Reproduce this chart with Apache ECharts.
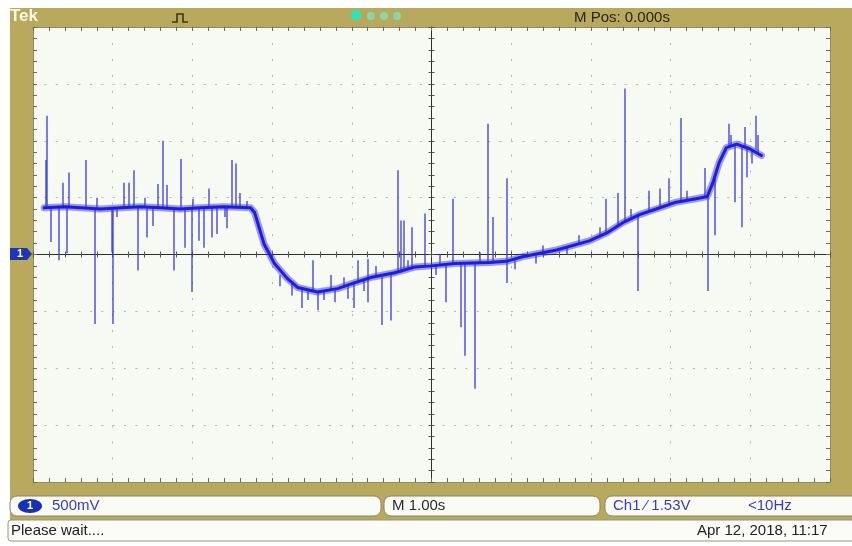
<!DOCTYPE html>
<html>
<head>
<meta charset="utf-8">
<script src="https://cdn.jsdelivr.net/npm/echarts@6/dist/echarts.min.js"></script>
<style>
html,body{margin:0;padding:0;background:#fff;}
#c{width:852px;height:546px;}
</style>
</head>
<body>
<div id="c"></div>
<script>
const traceTime = [-4.86,-4.60,-4.40,-4.15,-3.90,-3.65,-3.40,-3.15,-2.90,-2.60,-2.27,-2.22,-2.16,-2.10,-2.03,-1.97,-1.81,-1.68,-1.43,-1.18,-0.97,-0.75,-0.46,-0.21,0.00,0.29,0.73,0.94,1.14,1.57,1.98,2.20,2.40,2.61,2.82,3.07,3.32,3.46,3.53,3.61,3.70,3.83,3.99,4.14];
const traceVolt = [0.41,0.42,0.41,0.40,0.41,0.42,0.41,0.40,0.41,0.42,0.41,0.37,0.23,0.09,0.00,-0.08,-0.21,-0.29,-0.33,-0.30,-0.25,-0.20,-0.16,-0.11,-0.10,-0.08,-0.07,-0.06,-0.02,0.04,0.12,0.19,0.28,0.35,0.40,0.46,0.49,0.51,0.63,0.81,0.94,0.97,0.93,0.87];

// Glitch spikes: time, level they start from, level they reach
const spikeTime = [-4.83,-4.84,-4.78,-4.68,-4.63,-4.58,-4.55,-4.34,-4.23,-4.00,-4.01,-3.86,-3.80,-3.74,-3.68,-3.57,-3.50,-3.43,-3.37,-3.32,-3.23,-3.15,-3.09,-3.01,-2.92,-2.86,-2.80,-2.76,-2.69,-2.57,-2.51,-2.46,-2.40,-2.32,
  -1.63,-1.49,-1.43,-1.26,-1.22,-1.05,-0.97,-0.92,-0.80,-0.80,-0.63,-0.51,-0.42,-0.39,-0.35,-0.25,-0.09,0.18,0.27,0.37,0.42,0.54,0.71,0.77,
  0.94,0.94,1.31,2.11,2.19,2.34,2.42,2.59,2.73,2.87,2.98,3.13,3.43,3.47,3.55,3.73,3.80,3.89,3.95,3.93,4.07,4.09,
  -1.90,-1.75,-1.55,-1.35,-1.10,-0.85,-0.70,-0.30,0.05,0.10,0.60,1.05,1.40,1.70,1.85,2.50,3.20,3.76,4.02,-4.20,-3.95,-3.60,-3.00,-2.60];
const spikeFrom = [0.41,0.41,0.41,0.41,0.41,0.41,0.41,0.41,0.41,0.41,0.41,0.41,0.41,0.41,0.41,0.41,0.41,0.41,0.41,0.41,0.41,0.41,0.41,0.41,0.41,0.41,0.41,0.41,0.41,0.41,0.41,0.41,0.41,0.41,
  -0.30,-0.32,-0.33,-0.31,-0.31,-0.27,-0.25,-0.25,-0.21,-0.21,-0.19,-0.17,-0.16,-0.16,-0.15,-0.13,-0.10,-0.09,-0.08,-0.08,-0.08,-0.08,-0.07,-0.07,
  -0.06,-0.06,0.00,0.15,0.19,0.25,0.29,0.35,0.38,0.41,0.43,0.46,0.50,0.51,0.68,0.95,0.96,0.96,0.95,0.95,0.92,0.90,
  -0.18,-0.26,-0.31,-0.33,-0.29,-0.22,-0.19,-0.13,-0.10,-0.10,-0.07,-0.05,0.01,0.06,0.09,0.32,0.48,0.96,0.92,0.41,0.41,0.41,0.41,0.41];
const spikeTo = [1.22,0.83,0.11,-0.05,0.63,0.01,0.72,0.83,-0.61,-0.61,0.02,0.63,0.63,0.74,-0.14,0.15,0.25,0.62,1.00,0.61,-0.14,0.84,0.06,-0.33,0.12,0.06,0.58,0.15,0.18,0.23,0.83,0.80,0.54,0.47,
  -0.47,-0.05,-0.49,-0.18,-0.42,-0.39,-0.47,-0.05,-0.04,-0.42,-0.62,-0.58,0.74,0.30,0.30,0.24,0.36,-0.42,0.49,-0.64,-0.89,-1.18,1.15,0.33,
  0.67,-0.25,-0.08,0.24,0.49,0.54,1.46,-0.32,0.56,0.58,0.67,1.20,0.76,-0.32,0.17,1.15,0.46,0.24,0.68,1.12,1.22,1.05,
  -0.28,-0.36,-0.40,-0.40,-0.20,-0.32,-0.10,-0.05,-0.18,0.00,0.02,-0.13,0.08,0.00,0.17,0.40,0.56,1.05,0.80,0.50,0.33,0.50,0.49,0.33];

const tracePts = traceTime.map((t, i) => [t, traceVolt[i]]);
const spikeSegs = spikeTime.map((t, i) => ({coords: [[t, spikeFrom[i]], [t, spikeTo[i]]]}));

const chart = echarts.init(document.getElementById('c'), null, {renderer: 'canvas'});
const FONT = '"Liberation Sans", Arial, sans-serif';

function xAx(extra) {
  return Object.assign({
    type: 'value', min: -5, max: 5, interval: 1,
    axisLabel: {show: false},
    splitLine: {show: false},
    axisLine: {show: false, onZero: false},
    axisTick: {show: true, inside: true, length: 4, lineStyle: {color: '#6a6a60'}},
    minorTick: {show: true, splitNumber: 5, length: 4, lineStyle: {color: '#6a6a60'}}
  }, extra);
}
function yAx(extra) {
  return Object.assign({
    type: 'value', min: -2, max: 2, interval: 0.5,
    axisLabel: {show: false},
    splitLine: {show: false},
    axisLine: {show: false, onZero: false},
    axisTick: {show: true, inside: true, length: 4, lineStyle: {color: '#6a6a60'}},
    minorTick: {show: true, splitNumber: 5, length: 4, lineStyle: {color: '#6a6a60'}}
  }, extra);
}

const option = {
  backgroundColor: '#ffffff',
  animation: false,
  grid: {left: 33, top: 27, width: 797, height: 455, show: true, backgroundColor: '#f7f9f3', borderWidth: 0},
  xAxis: [
    xAx({position: 'bottom', axisLine: {show: true, onZero: false, lineStyle: {color: '#8c8a78'}},
      splitLine: {show: true, lineStyle: {color: '#b4b4ac', width: 1, type: [2, 13.94]}}}),
    xAx({position: 'top', axisLine: {show: true, onZero: false, lineStyle: {color: '#8c8a78'}}}),
    xAx({position: 'bottom', axisLine: {show: true, onZero: true, lineStyle: {color: '#2e2e2e', width: 1}},
      axisTick: {show: true, inside: false, length: 3, lineStyle: {color: '#555'}}, minorTick: {show: true, splitNumber: 5, length: 3, lineStyle: {color: '#555'}}}),
    xAx({position: 'bottom', axisLine: {show: false, onZero: true},
      axisTick: {show: true, inside: true, length: 3, lineStyle: {color: '#555'}}, minorTick: {show: true, splitNumber: 5, length: 3, lineStyle: {color: '#555'}}})
  ],
  yAxis: [
    yAx({position: 'left', axisLine: {show: true, onZero: false, lineStyle: {color: '#8c8a78'}},
      splitLine: {show: true, lineStyle: {color: '#b4b4ac', width: 1, type: [2, 9.38]}}}),
    yAx({position: 'right', axisLine: {show: true, onZero: false, lineStyle: {color: '#8c8a78'}}}),
    yAx({position: 'left', axisLine: {show: true, onZero: true, lineStyle: {color: '#2e2e2e', width: 1}},
      axisTick: {show: true, inside: false, length: 3, lineStyle: {color: '#555'}}, minorTick: {show: true, splitNumber: 5, length: 3, lineStyle: {color: '#555'}}}),
    yAx({position: 'left', axisLine: {show: false, onZero: true},
      axisTick: {show: true, inside: true, length: 3, lineStyle: {color: '#555'}}, minorTick: {show: true, splitNumber: 5, length: 3, lineStyle: {color: '#555'}}})
  ],
  series: [
    {
      type: 'lines', coordinateSystem: 'cartesian2d', xAxisIndex: 0, yAxisIndex: 0,
      silent: true, z: 3,
      lineStyle: {color: '#3434dc', width: 1.6, opacity: 0.8},
      data: spikeSegs
    },
    {
      type: 'line', xAxisIndex: 0, yAxisIndex: 0, showSymbol: false, smooth: false, silent: true, z: 4,
      lineStyle: {color: '#3c3ce8', width: 7, opacity: 0.5, join: 'round', cap: 'round'},
      data: tracePts
    },
    {
      type: 'line', xAxisIndex: 0, yAxisIndex: 0, showSymbol: false, smooth: false, silent: true, z: 5,
      lineStyle: {color: '#1e1ed6', width: 3, join: 'round', cap: 'round'},
      data: tracePts
    }
  ],
  graphic: [
    // olive instrument frame
    {type: 'rect', z: -10, shape: {x: 10, y: 8, width: 842, height: 512}, style: {fill: '#b9a95d'}},
    {type: 'text', left: 10, top: 8, style: {text: 'Tek', fill: '#fbf8e8', font: 'bold 17px ' + FONT}},
    {type: 'polyline', shape: {points: [[172, 22], [177, 22], [177, 14], [183, 14], [183, 22], [188, 22]]}, style: {stroke: '#3e3818', lineWidth: 1.6, fill: null}},
    {type: 'circle', shape: {cx: 356, cy: 15, r: 5}, style: {fill: '#22e8c2'}},
    {type: 'circle', shape: {cx: 371, cy: 16, r: 4}, style: {fill: '#86d8ac'}},
    {type: 'circle', shape: {cx: 384, cy: 16, r: 4}, style: {fill: '#86d8ac'}},
    {type: 'circle', shape: {cx: 397, cy: 16, r: 4}, style: {fill: '#86d8ac'}},
    {type: 'text', left: 574, top: 10, style: {text: 'M Pos: 0.000s', fill: '#2a2410', font: '15px ' + FONT}},
    // ground marker
    {type: 'polygon', shape: {points: [[10, 248], [27, 248], [32, 254], [27, 260], [10, 260]]}, style: {fill: '#1c36b5'}},
    {type: 'text', left: 17, top: 248, style: {text: '1', fill: '#ffffff', font: 'bold 11px ' + FONT}},
    // status row 1
    {type: 'rect', shape: {x: 10, y: 496, width: 371, height: 20, r: 7}, style: {fill: '#fbfbf5', stroke: '#8c8466', lineWidth: 1}},
    {type: 'ellipse', shape: {cx: 30, cy: 506, rx: 12, ry: 7}, style: {fill: '#1830b2'}},
    {type: 'text', left: 27, top: 500, style: {text: '1', fill: '#ffffff', font: 'bold 11px ' + FONT}},
    {type: 'text', left: 52, top: 498, style: {text: '500mV', fill: '#3a3ac4', font: '15px ' + FONT}},
    {type: 'rect', shape: {x: 384, y: 496, width: 216, height: 20, r: 7}, style: {fill: '#fbfbf5', stroke: '#8c8466', lineWidth: 1}},
    {type: 'text', left: 392, top: 498, style: {text: 'M 1.00s', fill: '#2a2a2a', font: '15px ' + FONT}},
    {type: 'rect', shape: {x: 605, y: 496, width: 260, height: 20, r: 7}, style: {fill: '#fbfbf5', stroke: '#8c8466', lineWidth: 1}},
    {type: 'text', left: 613, top: 498, style: {text: 'Ch1 \u2044 1.53V', fill: '#3a3ac4', font: '15px ' + FONT}},
    {type: 'text', left: 748, top: 498, style: {text: '<10Hz', fill: '#3a3ac4', font: '15px ' + FONT}},
    // status row 2
    {type: 'rect', shape: {x: 8, y: 520, width: 860, height: 21, r: 3}, style: {fill: '#fbfbf7', stroke: '#9a9680', lineWidth: 1}},
    {type: 'text', left: 11, top: 523, style: {text: 'Please wait....', fill: '#222222', font: '15px ' + FONT}},
    {type: 'text', left: 697, top: 523, style: {text: 'Apr 12, 2018, 11:17', fill: '#222222', font: '15px ' + FONT}}
  ]
};
chart.setOption(option);
</script>
</body>
</html>
